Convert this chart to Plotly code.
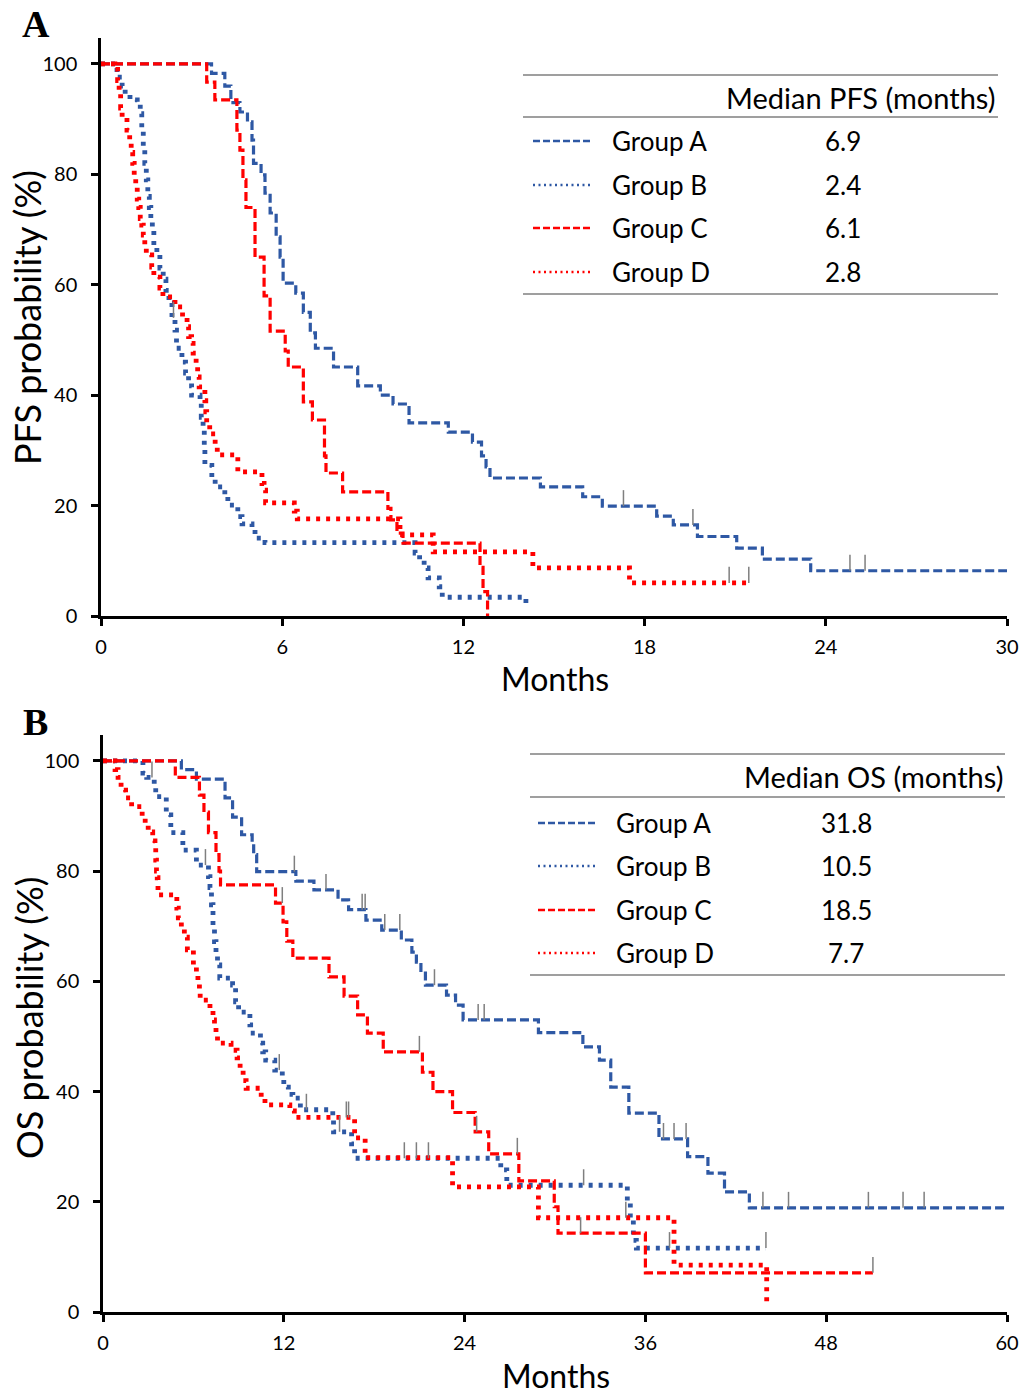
import plotly.graph_objects as go
from bisect import bisect_right

W, H = 1033, 1398
FONT = "Lato"
BLUE = "#2E58A4"
RED = "#FF0000"
GRAY = "#7F7F7F"

groups = ["Group A", "Group B", "Group C", "Group D"]
group_colors = [BLUE, BLUE, RED, RED]
group_styles = ["dash", "dot", "dash", "dot"]

pfs_medians = ["6.9", "2.4", "6.1", "2.8"]
os_medians = ["31.8", "10.5", "18.5", "7.7"]

pfs_ticks = [0, 6, 12, 18, 24, 30]
os_ticks = [0, 12, 24, 36, 48, 60]
y_ticks = [0, 20, 40, 60, 80, 100]

# ---------------- PFS (panel A) ----------------
pfs_a_t = [0, 3.66, 4.1, 4.3, 4.6, 4.85, 5.0, 5.05, 5.3, 5.43, 5.6, 5.8, 5.93, 6.03, 6.45, 6.7, 6.93, 7.1, 7.7, 8.5,
           9.25, 9.67, 10.2, 11.5, 12.3, 12.6, 12.75, 12.88, 14.55, 15.95, 16.6, 18.4, 18.95, 19.75, 21.05, 21.9, 23.5]
pfs_a_s = [100, 98.3, 96, 93, 91.3, 89.5, 86.2, 82, 79.9, 76.6, 73, 68.7, 65, 60.3, 58.5, 55, 51.3, 48.5, 45.1, 41.7,
           40, 38.4, 35, 33.3, 31.5, 29, 27, 25, 23.4, 21.6, 19.9, 18.1, 16.5, 14.4, 12.3, 10.3, 8.2]
pfs_a_end = 30
pfs_a_cens = [17.3, 19.6, 24.8, 25.3]

pfs_b_t = [0, 0.53, 0.7, 0.8, 0.96, 1.2, 1.3, 1.35, 1.4, 1.45, 1.5, 1.55, 1.6, 1.65, 1.7, 1.75, 1.85, 1.95, 2.06, 2.15,
           2.25, 2.35, 2.45, 2.5, 2.68, 2.8, 2.9, 3.0, 3.28, 3.32, 3.38, 3.42, 3.44, 3.67, 3.78, 4.1, 4.2, 4.53, 4.67, 5.0,
           5.1, 5.43, 10.4, 10.55, 10.7, 10.83, 11.2, 11.3, 14.07]
pfs_b_s = [100, 97.6, 96, 94.4, 93.5, 92.9, 91, 88, 85, 82, 79, 76, 74, 72, 70, 67, 65.7, 63, 61, 59,
           56.7, 54, 51.8, 48.5, 46, 44, 41.7, 40, 39, 36, 34.3, 31, 27.3, 25, 23.4, 21.6, 20.1, 18, 16.7, 16,
           14.1, 13.3, 11.4, 10.1, 8.7, 6.9, 5.3, 3.4, 1.4]
pfs_b_end = 14.07
pfs_b_cens = [2.4]

pfs_c_t = [0, 3.5, 3.77, 4.5, 4.6, 4.7, 4.8, 5.1, 5.4, 5.6, 6.1, 6.2, 6.7, 7.0, 7.4, 7.45, 8.0, 9.5, 9.6, 9.8,
           10.0, 12.55, 12.65, 12.8]
pfs_c_s = [100, 96.7, 93.5, 88, 84.4, 79, 74, 65, 58, 51.6, 48, 45.1, 38.8, 35.5, 29, 25.9, 22.5, 19.5, 17.4, 15,
           13.2, 8.8, 4.4, 0]
pfs_c_end = 12.8
pfs_c_cens = []

pfs_d_t = [0, 0.46, 0.55, 0.6, 0.65, 0.7, 0.86, 0.95, 1.0, 1.05, 1.1, 1.15, 1.2, 1.25, 1.3, 1.35, 1.4, 1.45, 1.5, 1.68,
           1.75, 1.95, 2.05, 2.45, 2.7, 2.85, 2.9, 3.0, 3.05, 3.15, 3.2, 3.25, 3.44, 3.47, 3.5, 3.6, 3.78, 3.85, 4.53, 5.33,
           5.4, 5.45, 6.4, 6.5, 9.9, 11.0, 14.3, 17.5]
pfs_d_s = [100, 99, 97, 94.7, 92, 90.4, 88, 86.2, 84, 82, 79.3, 77.7, 75.5, 74, 72, 70.8, 69, 67.2, 65.4, 63.2,
           61.4, 59.4, 57.8, 56, 54.2, 52.4, 50.6, 49.4, 47.6, 45.5, 43.3, 41.5, 39, 37, 35, 33, 31, 29.2, 26.1, 24,
           22.8, 20.5, 19, 17.6, 14.7, 11.6, 8.7, 6]
pfs_d_end = 21.45
pfs_d_cens = [20.8, 21.45]

# ---------------- OS (panel B) ----------------
os_a_t = [0, 5.2, 6.2, 8.1, 8.6, 9.2, 9.9, 10.0, 10.2, 12.8, 14.0, 15.6, 16.3, 17.45, 18.5, 19.8, 20.5, 20.8, 21.1, 21.4,
          22.8, 23.4, 23.9, 28.9, 31.85, 32.95, 33.7, 34.9, 36.9, 38.8, 40.15, 41.25, 42.9]
os_a_s = [100, 98.4, 96.7, 93.3, 89.8, 86.6, 85, 83, 79.9, 78.2, 76.6, 74.8, 73, 71.1, 69.3, 67.5, 65.3, 63.5, 61.5, 59.3,
          57.5, 55.7, 53, 50.7, 48.1, 45.7, 40.8, 36.1, 31.4, 28.2, 25.2, 21.8, 18.9]
os_a_end = 60
os_a_cens = [12.7, 14.8, 17.2, 17.4, 18.7, 19.7, 22.0, 24.9, 25.3, 37.2, 37.9, 38.7, 43.8, 45.5, 50.8, 53.1, 54.5]

os_b_t = [0, 2.65, 2.9, 3.4, 3.5, 4.2, 4.5, 5.3, 6.2, 7.0, 7.1, 7.2, 7.3, 7.4, 7.5, 7.6, 7.75, 8.6, 8.8, 9.0,
          9.75, 9.8, 10.45, 10.6, 10.8, 11.4, 11.9, 12.0, 12.3, 12.6, 13.1, 15.25, 15.3, 16.5, 16.7, 26.4, 26.8, 34.8, 35.0, 35.2,
          35.4]
os_b_s = [100, 97.8, 97, 95.3, 93.5, 90.2, 87, 83.8, 81.1, 79, 77, 73.9, 70.2, 67.2, 65.2, 63, 60.6, 59.3, 56.3, 54.4,
          52.1, 50.6, 48.8, 47.2, 45.7, 43.9, 42.6, 40.8, 39.5, 38.8, 36.7, 34.8, 32.7, 30.5, 27.9, 25.8, 23, 19.8, 16.7, 13,
          11.6]
os_b_end = 44.0
os_b_cens = [3.25, 6.8, 11.7, 13.5, 15.7, 20.0, 20.8, 21.6, 31.9, 37.6, 44.0]

os_c_t = [0, 4.8, 6.4, 6.7, 7.0, 7.5, 7.7, 7.8, 11.45, 11.95, 12.2, 12.6, 15.0, 16.0, 16.9, 17.55, 18.6, 21.2, 21.9, 23.2,
          24.7, 25.6, 27.6, 29.95, 30.2, 36.0]
os_c_s = [100, 97, 93.8, 90.7, 87, 83, 80, 77.5, 74.2, 70.8, 67.3, 64.2, 60.8, 57.3, 53.9, 50.6, 47.2, 43.5, 40, 36.2,
          32.7, 28.7, 23.8, 19.1, 14.3, 7.1]
os_c_end = 51.1
os_c_cens = [11.9, 21.0, 24.8, 27.5, 31.7, 51.1]

os_d_t = [0, 0.8, 1.0, 1.2, 1.5, 1.9, 2.6, 2.8, 3.0, 3.3, 3.45, 3.5, 3.55, 3.6, 3.65, 4.9, 5.0, 5.2, 5.4, 5.6,
          6.0, 6.2, 6.3, 6.4, 6.45, 7.1, 7.3, 7.4, 7.5, 7.6, 8.5, 8.9, 9.1, 9.3, 9.5, 10.5, 10.75, 12.4, 12.7, 16.7,
          17.4, 23.2, 28.9, 37.9, 44.05]
os_d_s = [100, 98.4, 97, 94.7, 93.3, 91.7, 89.8, 88.5, 87.1, 85.5, 84.4, 82, 80, 78.8, 75.7, 73.3, 71.5, 69.5, 68, 65.7,
          62.6, 61.2, 59.5, 58.1, 56.6, 54.8, 53, 51.7, 50.3, 48.8, 47.5, 46.1, 44, 42, 40.6, 39, 37.6, 36.5, 35.3, 31.6,
          28, 22.7, 17.1, 8.5, 1.6]
os_d_end = 44.05
os_d_cens = [16.15, 16.3, 34.7]

pfs_curves = [(pfs_a_t, pfs_a_s, pfs_a_end, pfs_a_cens), (pfs_b_t, pfs_b_s, pfs_b_end, pfs_b_cens),
              (pfs_c_t, pfs_c_s, pfs_c_end, pfs_c_cens), (pfs_d_t, pfs_d_s, pfs_d_end, pfs_d_cens)]
os_curves = [(os_a_t, os_a_s, os_a_end, os_a_cens), (os_b_t, os_b_s, os_b_end, os_b_cens),
             (os_c_t, os_c_s, os_c_end, os_c_cens), (os_d_t, os_d_s, os_d_end, os_d_cens)]

CENS_H = 2.9  # censor tick height in % units


def px(x):
    return x / W


def py(y):
    return 1 - y / H


def step_value(t_list, s_list, t):
    i = bisect_right(t_list, t)
    return s_list[max(i - 1, 0)]


fig = go.Figure()


def add_panel(curves, xa, ya):
    for (t, s, end, cens), name, col, sty in zip(curves, groups, group_colors, group_styles):
        if sty == "dash":
            line = dict(color=col, width=3.2, dash="9px,4px", shape="hv")
        else:
            line = dict(color=col, width=4.8, dash="4px,6px", shape="hv")
        fig.add_trace(go.Scatter(x=list(t) + [end], y=list(s) + [s[-1]], mode="lines", line=line,
                                 xaxis=xa, yaxis=ya, name=name, showlegend=False, hoverinfo="skip"))
    for (t, s, end, cens), name in zip(curves, groups):
        cx, cy = [], []
        for c in cens:
            v = step_value(t, s, c)
            cx += [c, c, None]
            cy += [v, v + CENS_H, None]
        if cx:
            fig.add_trace(go.Scatter(x=cx, y=cy, mode="lines", line=dict(color=GRAY, width=1.5),
                                     xaxis=xa, yaxis=ya, showlegend=False, hoverinfo="skip"))


add_panel(pfs_curves, "x", "y")
add_panel(os_curves, "x2", "y2")

axis_common = dict(showline=True, linecolor="black", linewidth=2.5, ticks="outside", ticklen=7,
                   tickwidth=2.5, tickcolor="black", showgrid=False, zeroline=False, automargin=False,
                   tickfont=dict(family=FONT, size=20, color="black"))

fig.update_layout(
    width=W, height=H, margin=dict(l=0, r=0, t=0, b=0, autoexpand=False), autosize=False,
    plot_bgcolor="white", paper_bgcolor="white", showlegend=False,
    xaxis=dict(domain=[px(101), px(1007)], range=[0, 30], tickvals=pfs_ticks, anchor="y",
               ticklabelstandoff=4, **axis_common),
    yaxis=dict(domain=[py(616), py(38)], range=[0, 104.7], tickvals=y_ticks, anchor="x",
               ticklabelstandoff=10, **axis_common),
    xaxis2=dict(domain=[px(103), px(1007)], range=[0, 60], tickvals=os_ticks, anchor="y2",
                ticklabelstandoff=4, **axis_common),
    yaxis2=dict(domain=[py(1312), py(735)], range=[0, 104.7], tickvals=y_ticks, anchor="x2",
                ticklabelstandoff=10, **axis_common),
)

shapes = []
annotations = []


def add_table(title, medians, top, head_y, line2, rows, bottom, x0, x1, samp0, samp1, lab_x, val_x):
    for yy in (top, line2, bottom):
        shapes.append(dict(type="line", xref="paper", yref="paper", x0=px(x0), x1=px(x1), y0=py(yy), y1=py(yy),
                           line=dict(color=GRAY, width=1.5)))
    annotations.append(dict(text=title, x=px(x1), y=py(head_y), xref="paper", yref="paper", xanchor="right",
                            yanchor="middle", showarrow=False, font=dict(family=FONT, size=29, color="black")))
    for name, col, sty, med, ry in zip(groups, group_colors, group_styles, medians, rows):
        dash = "7px,3px" if sty == "dash" else "2px,3.5px"
        shapes.append(dict(type="line", xref="paper", yref="paper", x0=px(samp0), x1=px(samp1), y0=py(ry), y1=py(ry),
                           line=dict(color=col, width=2.5, dash=dash)))
        annotations.append(dict(text=name, x=px(lab_x), y=py(ry), xref="paper", yref="paper", xanchor="left",
                                yanchor="middle", showarrow=False, font=dict(family=FONT, size=26, color="black")))
        annotations.append(dict(text=med, x=px(val_x), y=py(ry), xref="paper", yref="paper", xanchor="center",
                                yanchor="middle", showarrow=False, font=dict(family=FONT, size=26, color="black")))


add_table("Median PFS (months)", pfs_medians, 75, 97, 117, [141, 185, 228, 272], 294, 523, 998, 533, 593, 610, 843)
add_table("Median OS (months)", os_medians, 754, 776, 797, [823, 866, 910, 953], 975, 530, 1005, 538, 598, 614, 846)

# Panel letters and axis titles
for letter, lx, ly in (("A", 36, 24), ("B", 35, 722)):
    annotations.append(dict(text="<b>%s</b>" % letter, x=px(lx), y=py(ly), xref="paper", yref="paper",
                            xanchor="center", yanchor="middle", showarrow=False,
                            font=dict(family="Liberation Serif", size=38, color="black")))
for txt, tx, ty in (("PFS probability (%)", 27, 318), ("OS probability (%)", 29, 1018)):
    annotations.append(dict(text=txt, x=px(tx), y=py(ty), xref="paper", yref="paper", textangle=-90,
                            xanchor="center", yanchor="middle", showarrow=False,
                            font=dict(family=FONT, size=36, color="black")))
for tx, ty in ((555, 678), (556, 1375)):
    annotations.append(dict(text="Months", x=px(tx), y=py(ty), xref="paper", yref="paper",
                            xanchor="center", yanchor="middle", showarrow=False,
                            font=dict(family=FONT, size=32, color="black")))

fig.update_layout(shapes=shapes, annotations=annotations)

fig.write_html(
    "out.html",
    config={"displayModeBar": False, "responsive": False},
    post_script="document.body.style.margin='0';document.body.style.overflow='hidden';"
                "document.documentElement.style.overflow='hidden';",
)
